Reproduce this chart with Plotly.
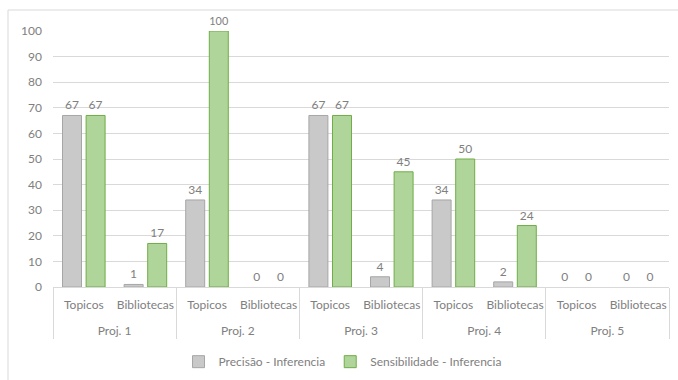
import plotly.graph_objects as go

projects = ["Proj. 1", "Proj. 1", "Proj. 2", "Proj. 2", "Proj. 3", "Proj. 3", "Proj. 4", "Proj. 4", "Proj. 5", "Proj. 5"]
subcats = ["Topicos", "Bibliotecas"] * 5
precisao = [67, 1, 34, 0, 67, 4, 34, 2, 0, 0]
sensibilidade = [67, 17, 100, 0, 67, 45, 50, 24, 0, 0]
series_names = ["Precisão - Inferencia", "Sensibilidade - Inferencia"]

FONT = "Lato"
TXT = "#808080"

# outer-level labels pushed one line lower (Excel places them well below the inner labels)
outer = ["<br>" + p for p in projects]


def edge_widths(vals):
    return [1 if v > 0 else 0 for v in vals]


fig = go.Figure()
fig.add_trace(go.Bar(
    x=[outer, subcats], y=precisao, name=series_names[0],
    marker=dict(color="#c9c9c9", line=dict(color="#a6a6a6", width=edge_widths(precisao))),
    text=precisao, textposition="outside", cliponaxis=False,
    textfont=dict(color=TXT, size=12, family=FONT),
))
fig.add_trace(go.Bar(
    x=[outer, subcats], y=sensibilidade, name=series_names[1],
    marker=dict(color="#afd59a", line=dict(color="#70ad47", width=edge_widths(sensibilidade))),
    text=sensibilidade, textposition="outside", cliponaxis=False,
    textfont=dict(color=TXT, size=12, family=FONT),
))

fig.update_layout(
    width=678, height=380,
    margin=dict(l=53, r=9, t=31, b=93, autoexpand=False),
    paper_bgcolor="white", plot_bgcolor="white",
    barmode="group", bargap=0.234, bargroupgap=0.195,
    font=dict(family=FONT, size=12, color=TXT),
    showlegend=True,
    legend=dict(orientation="h", x=0.47, xanchor="center", y=-0.235, yanchor="top",
                font=dict(size=12, color=TXT, family=FONT), itemwidth=30, traceorder="normal"),
    shapes=[dict(type="rect", xref="paper", yref="paper",
                 x0=-45/616, x1=1 + 20/616, y0=-110/256, y1=1 + 21/256,
                 line=dict(color="#d9d9d9", width=1), fillcolor="rgba(0,0,0,0)", layer="below")],
)
fig.update_yaxes(range=[0, 100], dtick=10, showgrid=True, gridcolor="#d9d9d9", gridwidth=1,
                 zeroline=False, showline=False, ticks="", ticklabelstandoff=10, automargin=False,
                 tickfont=dict(size=12, color=TXT, family=FONT))
fig.update_xaxes(type="multicategory", showline=True, linecolor="#d9d9d9", linewidth=1,
                 showdividers=True, dividercolor="#d9d9d9", dividerwidth=1, tickangle=0,
                 automargin=False, ticklabelstandoff=7,
                 tickfont=dict(size=12, color=TXT, family=FONT), ticks="")

fig.write_html("out.html")
